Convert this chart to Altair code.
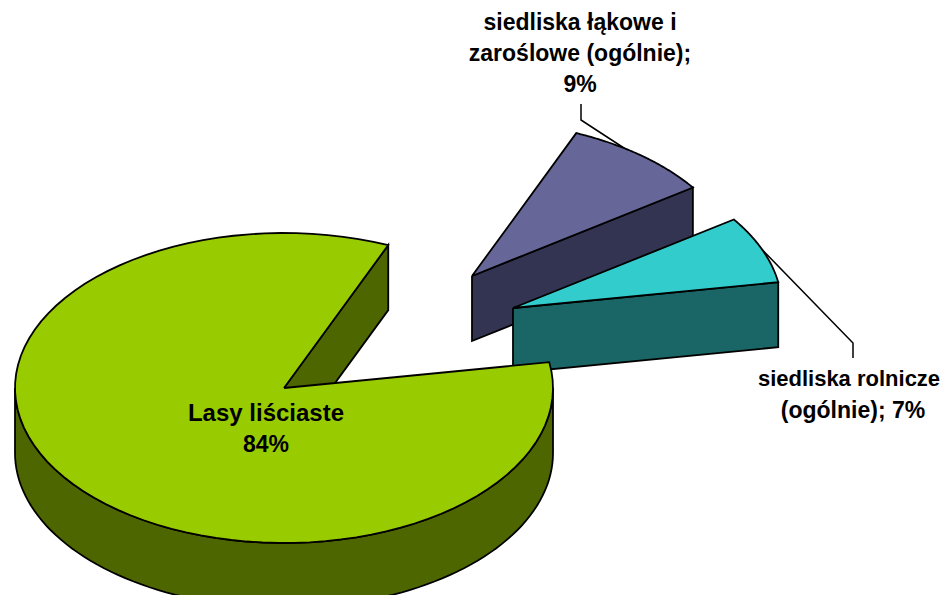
import math
import altair as alt
import pandas as pd

# chart values
names = ["Lasy liściaste", "siedliska rolnicze (ogólnie)", "siedliska łąkowe i zaroślowe (ogólnie)"]
shares = [84, 7, 9]
top_colors = ["#99CC00", "#33CCCC", "#666699"]
side_colors = ["#4D6600", "#1A6666", "#333352"]
label_lines = [["Lasy liściaste", "84%"],
               ["siedliska rolnicze", "(ogólnie); 7%"],
               ["siedliska łąkowe i", "zaroślowe (ogólnie);", "9%"]]
label_sizes = [[24, 23], [22, 23], [23, 23, 23]]
label_x = [[266, 266], [849, 853], [580, 580, 580]]
label_y = [[414, 445], [379, 411], [23, 54, 85]]

# layout of the tilted pie
RX, RY, DEPTH = 269, 155, 65
START = 9.6
centers = {"main": (284, 388), "teal": (513, 308), "purple": (472, 276)}
leaders = [[(581, 104), (581, 120), (650, 165)], [(853, 358), (853, 343), (745, 232)]]

XS = alt.Scale(domain=[8, 940], range=[0, 932], nice=False, zero=False)
YS = alt.Scale(domain=[8, 595], range=[0, 587], nice=False, zero=False)


def rim(c, a0, a1, dy=0, n=90):
    return [(c[0] + RX * math.cos(math.radians(a0 + (a1 - a0) * i / n)),
             c[1] - RY * math.sin(math.radians(a0 + (a1 - a0) * i / n)) + dy) for i in range(n + 1)]


def poly(pts, fill):
    pts = list(pts) + [pts[0]]
    df = pd.DataFrame({"x": [p[0] for p in pts], "y": [p[1] for p in pts], "i": range(len(pts))})
    return alt.Chart(df).mark_line(fill=fill, stroke="#000000", strokeWidth=1.8, clip=True,
                                   strokeJoin="miter", interpolate="linear").encode(
        x=alt.X("x:Q", scale=XS, axis=None),
        y=alt.Y("y:Q", scale=YS, axis=None),
        order=alt.Order("i:Q"))


def open_line(pts):
    df = pd.DataFrame({"x": [p[0] for p in pts], "y": [p[1] for p in pts], "i": range(len(pts))})
    return alt.Chart(df).mark_line(stroke="#000000", strokeWidth=1.5).encode(
        x=alt.X("x:Q", scale=XS, axis=None),
        y=alt.Y("y:Q", scale=YS, axis=None),
        order=alt.Order("i:Q"))


sweep = [s * 3.6 for s in shares]
t0, t1 = START, START + sweep[1]
p0, p1 = t1, t1 + sweep[2]
m0, m1 = p1, p1 + sweep[0]

layers = [open_line(l) for l in leaders]
# purple slice
c = centers["purple"]
a = rim(c, p0, p1)
layers.append(poly([c, a[0], (a[0][0], a[0][1] + DEPTH), (c[0], c[1] + DEPTH)], side_colors[2]))
layers.append(poly([c] + a, top_colors[2]))
# teal slice
c = centers["teal"]
a = rim(c, t0, t1)
layers.append(poly([c, a[0], (a[0][0], a[0][1] + DEPTH), (c[0], c[1] + DEPTH)], side_colors[1]))
layers.append(poly([c] + a, top_colors[1]))
# main slice
c = centers["main"]
a = rim(c, m0, m1)
layers.append(poly([c, a[0], (a[0][0], a[0][1] + DEPTH), (c[0], c[1] + DEPTH)], side_colors[0]))
layers.append(poly(rim(c, 180, 360) + rim(c, 360, 180, DEPTH), side_colors[0]))
layers.append(poly([c] + a, top_colors[0]))
# labels
rows = []
for lines, sizes, xs, ys in zip(label_lines, label_sizes, label_x, label_y):
    for t, sz, lx, ly in zip(lines, sizes, xs, ys):
        rows.append({"x": lx, "y": ly, "t": t, "s": sz})
layers.append(alt.Chart(pd.DataFrame(rows)).mark_text(
    font="Liberation Sans", fontWeight="bold", color="#000000", align="center", baseline="middle"
).encode(x=alt.X("x:Q", scale=XS, axis=None), y=alt.Y("y:Q", scale=YS, axis=None), text="t:N",
         size=alt.Size("s:Q", scale=None, legend=None)))

chart = alt.layer(*layers).properties(
    width=932, height=587, padding=0, autosize=alt.AutoSizeParams(type="none"),
    background="#FFFFFF"
).configure_view(stroke=None)
chart.save("out.html", embed_options={"renderer": "svg", "actions": False})
